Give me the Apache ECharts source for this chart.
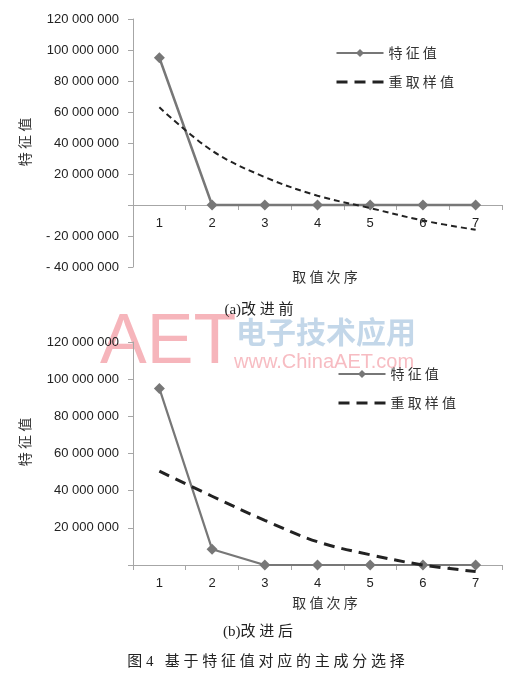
<!DOCTYPE html>
<html><head><meta charset="utf-8">
<script src="https://cdn.jsdelivr.net/npm/echarts@6/dist/echarts.min.js"></script>
<style>html,body{margin:0;padding:0;background:#fff}#c{width:520px;height:679px}</style>
</head><body><div id="c"></div>
<script>
const categories = ['1','2','3','4','5','6','7'];
const seriesNames = ['特征值','重取样值'];
const eigenBefore = [95000000, 0, 0, 0, 0, 0, 0];
const resampleBefore = [63000000, 35000000, 18000000, 6000000, -2000000, -10000000, -16000000];
const eigenAfter = [95000000, 8500000, 0, 0, 0, 0, 0];
const resampleAfter = [50500000, 37000000, 24000000, 12500000, 5500000, 0, -3500000];
const yTicksBefore = {min: -40000000, max: 120000000, interval: 20000000};
const yTicksAfter = {min: 0, max: 120000000, interval: 20000000};

const chart = echarts.init(document.getElementById('c'), null, {renderer: 'canvas'});
const cjk = "'Noto Sans CJK SC', sans-serif";
const serifCjk = "'Liberation Serif', 'Noto Sans CJK SC', serif";
const axisGray = '#a6a6a6';
const solidGray = '#777777';

const grid0 = {left: 133, right: 18, top: 19, height: 248};
const grid1 = {left: 133, right: 18, top: 342, height: 223};
// distance from bottom of grid 0 to its zero line (axis placed on zero)
const zeroOffset0 = grid0.height * (0 - yTicksBefore.min) / (yTicksBefore.max - yTicksBefore.min);

function fmt(v) {
  if (v === 0) return '';
  const s = Math.abs(v).toString().replace(/\B(?=(\d{3})+(?!\d))/g, ' ');
  return (v < 0 ? '- ' : '') + s;
}
function spaced(t) { return t.split('').join(' '); }

function xAxis(gridIndex, offset) {
  return {
    type: 'category', gridIndex, data: categories, boundaryGap: true, position: 'bottom', offset: -offset,
    axisLine: {onZero: false, lineStyle: {color: axisGray, width: 1}},
    axisTick: {show: true, length: 5, lineStyle: {color: axisGray}},
    axisLabel: {color: '#222', fontSize: 13, fontFamily: 'Liberation Sans', margin: 12},
    splitLine: {show: false}
  };
}
function yAxis(gridIndex, t) {
  return {
    type: 'value', gridIndex, min: t.min, max: t.max, interval: t.interval,
    axisLine: {show: true, lineStyle: {color: axisGray, width: 1}},
    axisTick: {show: true, length: 5, lineStyle: {color: axisGray}},
    axisLabel: {color: '#222', fontSize: 13, fontFamily: 'Liberation Sans', margin: 14, formatter: fmt},
    splitLine: {show: false}
  };
}
function legend(top, left) {
  return {
    data: [
      {name: seriesNames[0]},
      {name: seriesNames[1], itemStyle: {opacity: 0}, lineStyle: {width: 3, type: [11, 7], color: '#222'}}
    ],
    orient: 'vertical', left, top, padding: 0, itemWidth: 47, itemHeight: 10, itemGap: 15,
    formatter: n => spaced(n), selectedMode: false,
    textStyle: {color: '#333', fontSize: 14, fontFamily: cjk}
  };
}
function text(x, y, s, opts) {
  return Object.assign({type: 'text', x, y, z: 10, style: Object.assign({text: s, fill: '#333', font: '14px ' + cjk, textAlign: 'center', textVerticalAlign: 'middle'}, opts || {})});
}

const option = {
  animation: false,
  backgroundColor: '#fff',
  grid: [grid0, grid1],
  xAxis: [xAxis(0, zeroOffset0), xAxis(1, 0)],
  yAxis: [yAxis(0, yTicksBefore), yAxis(1, yTicksAfter)],
  legend: [legend(46, 335), legend(367, 337)],
  series: [
    {name: seriesNames[0], type: 'line', xAxisIndex: 0, yAxisIndex: 0, data: eigenBefore, symbol: 'diamond', symbolSize: 11, z: 3,
     lineStyle: {color: solidGray, width: 2.5}, itemStyle: {color: solidGray}},
    {name: seriesNames[1], type: 'line', xAxisIndex: 0, yAxisIndex: 0, data: resampleBefore, smooth: 0.35, symbol: 'none', z: 4, clip: false,
     lineStyle: {color: '#222', width: 2, type: [6, 4]}, itemStyle: {color: '#222'}},
    {name: seriesNames[0], type: 'line', xAxisIndex: 1, yAxisIndex: 1, data: eigenAfter, symbol: 'diamond', symbolSize: 11, z: 3,
     lineStyle: {color: solidGray, width: 2.2}, itemStyle: {color: solidGray}},
    {name: seriesNames[1], type: 'line', xAxisIndex: 1, yAxisIndex: 1, data: resampleAfter, smooth: 0.35, symbol: 'none', z: 4, clip: false,
     lineStyle: {color: '#222', width: 3, type: [11, 7]}, itemStyle: {color: '#222'}}
  ],
  graphic: [
    // watermark
    {type: 'text', x: 100, y: 344, z: -1, style: {text: 'AET', fill: 'rgba(242,150,158,0.7)', font: '70px Liberation Sans', textVerticalAlign: 'middle'}},
    {type: 'text', x: 236, y: 332, z: -1, style: {text: '电子技术应用', fill: 'rgba(170,198,224,0.7)', font: 'bold 30px ' + cjk, textVerticalAlign: 'middle'}},
    {type: 'text', x: 234, y: 362, z: -1, style: {text: 'www.ChinaAET.com', fill: 'rgba(244,160,168,0.7)', font: '20px Liberation Sans', textVerticalAlign: 'middle'}},
    // axis titles
    text(25, 142, spaced('特征值'), {}),
    text(325, 277, spaced('取值次序'), {}),
    text(25, 442, spaced('特征值'), {}),
    text(325, 603, spaced('取值次序'), {}),
    // captions
    text(259, 310, '(a)' + spaced('改进前'), {font: '15px ' + serifCjk, fill: '#222'}),
    text(258, 632, '(b)' + spaced('改进后'), {font: '15px ' + serifCjk, fill: '#222'}),
    text(266, 662, '图 4   ' + spaced('基于特征值对应的主成分选择'), {font: '15px ' + serifCjk, fill: '#222'})
  ]
};
option.graphic[3].rotation = Math.PI / 2;
option.graphic[5].rotation = Math.PI / 2;
chart.setOption(option);
</script></body></html>
